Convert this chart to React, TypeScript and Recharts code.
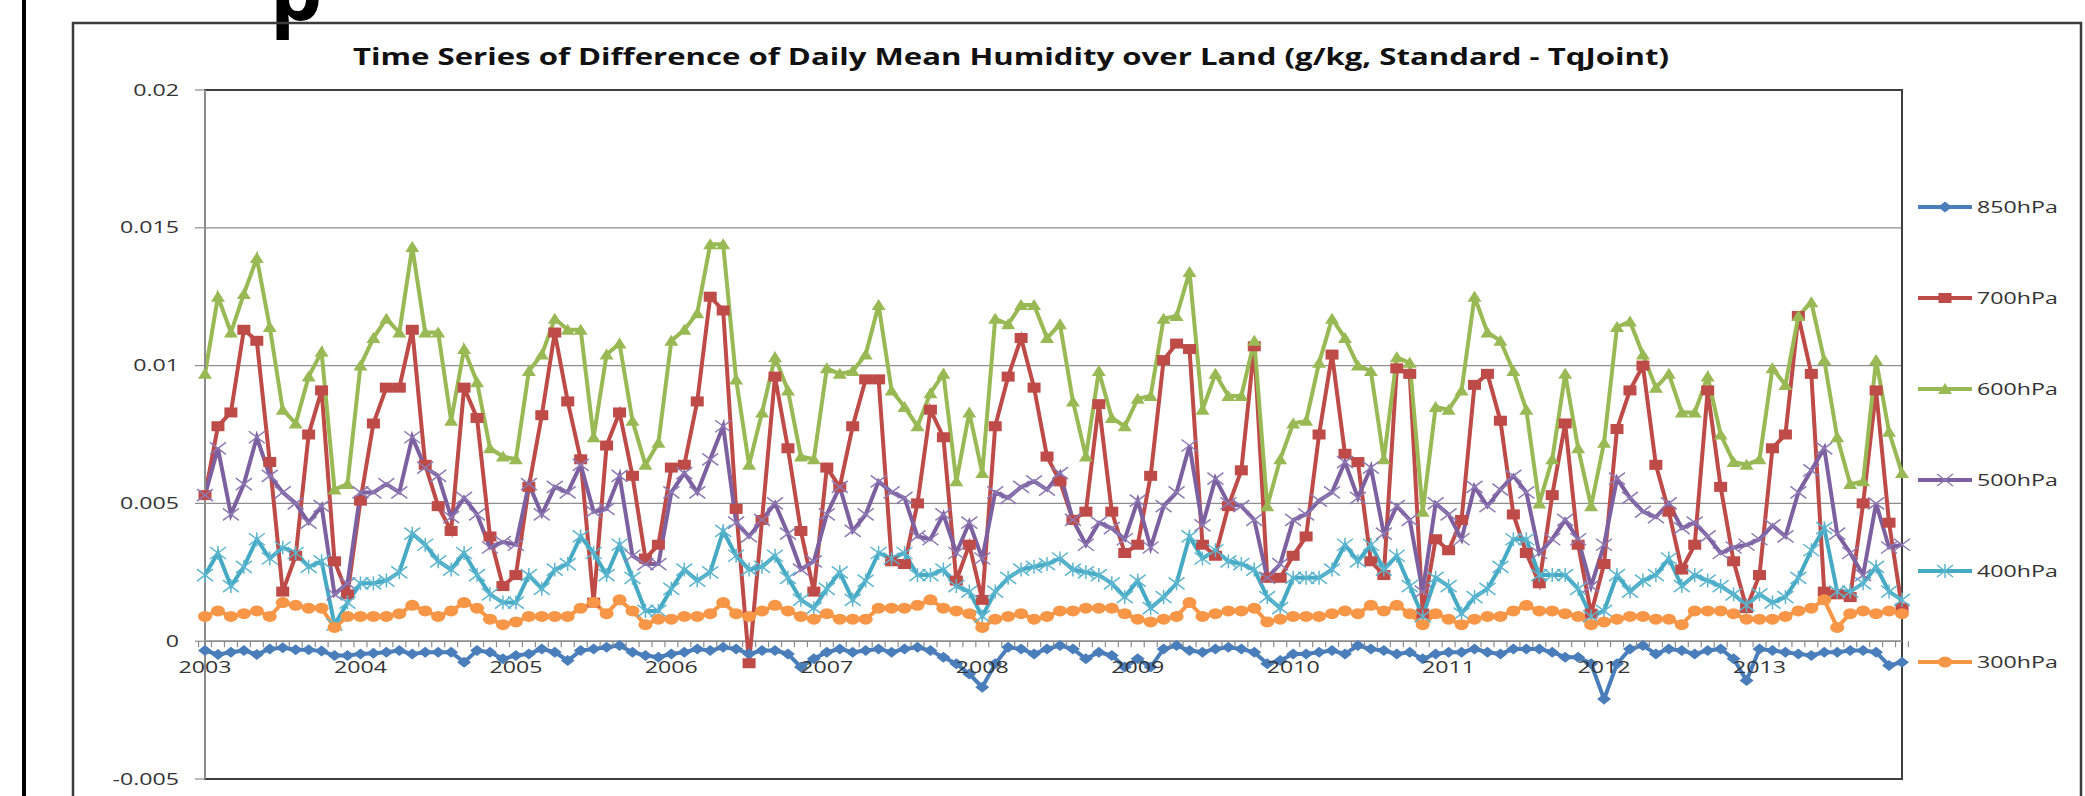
import React from "react";
import {
  LineChart,
  Line,
  XAxis,
  YAxis,
  CartesianGrid,
  ReferenceLine,
  ReferenceArea,
} from "recharts";

const TITLE =
  "Time Series of Difference of Daily Mean Humidity over Land (g/kg, Standard - TqJoint)";

const YEARS = ["2003", "2004", "2005", "2006", "2007", "2008", "2009", "2010", "2011", "2012", "2013"];
const MONTHS = ["01", "02", "03", "04", "05", "06", "07", "08", "09", "10", "11", "12"];
const Y_TICKS = [-0.005, 0, 0.005, 0.01, 0.015, 0.02];

// one row per year, Jan..Dec
const HPA_850 = [
  -0.00034, -0.00048, -0.0004, -0.00034, -0.00048, -0.00028, -0.00024, -0.00031, -0.00031, -0.00036, -0.00052, -0.00052,
  -0.00046, -0.00044, -0.0004, -0.00034, -0.00046, -0.0004, -0.0004, -0.0004, -0.00076, -0.00034, -0.0004, -0.00064,
  -0.00052, -0.00046, -0.00028, -0.0004, -0.0007, -0.00034, -0.00028, -0.00022, -0.00016, -0.0004, -0.00052, -0.00058,
  -0.00046, -0.0004, -0.00028, -0.00034, -0.00022, -0.00028, -0.00046, -0.00034, -0.00034, -0.00046, -0.00094, -0.00064,
  -0.0004, -0.00028, -0.0004, -0.00034, -0.00028, -0.0004, -0.00028, -0.00022, -0.00034, -0.00058, -0.00082, -0.00119,
  -0.00167, -0.00082, -0.00022, -0.00028, -0.00046, -0.00028, -0.00016, -0.00028, -0.00064, -0.0004, -0.00052, -0.00094,
  -0.00064, -0.00094, -0.00028, -0.00016, -0.00034, -0.0004, -0.00028, -0.00022, -0.00028, -0.0004, -0.00082, -0.0007,
  -0.00046, -0.00046, -0.0004, -0.00034, -0.00046, -0.00016, -0.00028, -0.00034, -0.00046, -0.0004, -0.00064, -0.00046,
  -0.0004, -0.0004, -0.00028, -0.0004, -0.00046, -0.00028, -0.00028, -0.00028, -0.0004, -0.00058, -0.00058, -0.00082,
  -0.0021, -0.00082, -0.00028, -0.00016, -0.00046, -0.00028, -0.00034, -0.00046, -0.00034, -0.00028, -0.00064, -0.00143,
  -0.00028, -0.00034, -0.0004, -0.00046, -0.00052, -0.0004, -0.0004, -0.00034, -0.00034, -0.0004, -0.00088, -0.00076,
];

const HPA_700 = [
  0.0053, 0.0078, 0.0083, 0.0113, 0.0109, 0.0065, 0.0018, 0.0031, 0.0075, 0.0091, 0.0029, 0.0017,
  0.0051, 0.0079, 0.0092, 0.0092, 0.0113, 0.0064, 0.0049, 0.004, 0.0092, 0.0081, 0.0038, 0.002,
  0.0024, 0.0056, 0.0082, 0.0112, 0.0087, 0.0066, 0.0014, 0.0071, 0.0083, 0.006, 0.003, 0.0035,
  0.0063, 0.0064, 0.0087, 0.0125, 0.012, 0.0048, -0.0008, 0.0044, 0.0096, 0.007, 0.004, 0.0018,
  0.0063, 0.0056, 0.0078, 0.0095, 0.0095, 0.0029, 0.0028, 0.005, 0.0084, 0.0074, 0.0022, 0.0035,
  0.0015, 0.0078, 0.0096, 0.011, 0.0092, 0.0067, 0.0058, 0.0044, 0.0047, 0.0086, 0.0047, 0.0032,
  0.0035, 0.006, 0.0102, 0.0108, 0.0106, 0.0035, 0.0031, 0.0049, 0.0062, 0.0107, 0.0023, 0.0023,
  0.0031, 0.0038, 0.0075, 0.0104, 0.0068, 0.0065, 0.0029, 0.0024, 0.0099, 0.0097, 0.001, 0.0037,
  0.0033, 0.0044, 0.0093, 0.0097, 0.008, 0.0046, 0.0032, 0.0021, 0.0053, 0.0079, 0.0035, 0.001,
  0.0028, 0.0077, 0.0091, 0.01, 0.0064, 0.0047, 0.0026, 0.0035, 0.0091, 0.0056, 0.0029, 0.0012,
  0.0024, 0.007, 0.0075, 0.0118, 0.0097, 0.0018, 0.0017, 0.0016, 0.005, 0.0091, 0.0043, 0.0012,
];

const HPA_600 = [
  0.0097, 0.0125, 0.0112, 0.0126, 0.0139, 0.0114, 0.0084, 0.0079, 0.0096, 0.0105, 0.0055, 0.0057,
  0.01, 0.011, 0.0117, 0.0112, 0.0143, 0.0112, 0.0112, 0.008, 0.0106, 0.0094, 0.007, 0.0067,
  0.0066, 0.0098, 0.0104, 0.0117, 0.0113, 0.0113, 0.0074, 0.0104, 0.0108, 0.008, 0.0064, 0.0072,
  0.0109, 0.0113, 0.0119, 0.0144, 0.0144, 0.0095, 0.0064, 0.0083, 0.0103, 0.0091, 0.0067, 0.0066,
  0.0099, 0.0097, 0.0098, 0.0104, 0.0122, 0.0091, 0.0085, 0.0078, 0.009, 0.0097, 0.0058, 0.0083,
  0.0061, 0.0117, 0.0115, 0.0122, 0.0122, 0.011, 0.0115, 0.0087, 0.0067, 0.0098, 0.0081, 0.0078,
  0.0088, 0.0089, 0.0117, 0.0118, 0.0134, 0.0084, 0.0097, 0.0089, 0.0089, 0.0109, 0.0049, 0.0066,
  0.0079, 0.008, 0.0101, 0.0117, 0.011, 0.01, 0.0098, 0.0066, 0.0103, 0.0101, 0.0047, 0.0085,
  0.0084, 0.0091, 0.0125, 0.0112, 0.0109, 0.0098, 0.0084, 0.005, 0.0066, 0.0097, 0.007, 0.0049,
  0.0072, 0.0114, 0.0116, 0.0104, 0.0092, 0.0097, 0.0083, 0.0083, 0.0096, 0.0075, 0.0065, 0.0064,
  0.0066, 0.0099, 0.0093, 0.0118, 0.0123, 0.0102, 0.0074, 0.0057, 0.0058, 0.0102, 0.0076, 0.0061,
];

const HPA_500 = [
  0.0053, 0.007, 0.0046, 0.0057, 0.0074, 0.006, 0.0054, 0.005, 0.0043, 0.0049, 0.0017, 0.0021,
  0.0054, 0.0054, 0.0057, 0.0054, 0.0074, 0.0063, 0.006, 0.0045, 0.0052, 0.0046, 0.0034, 0.0036,
  0.0035, 0.0057, 0.0046, 0.0056, 0.0054, 0.0064, 0.0047, 0.0048, 0.006, 0.0031, 0.0028, 0.0028,
  0.0054, 0.0061, 0.0054, 0.0066, 0.0078, 0.0043, 0.0038, 0.0044, 0.005, 0.0039, 0.0026, 0.0029,
  0.0046, 0.0056, 0.004, 0.0046, 0.0058, 0.0054, 0.0052, 0.0038, 0.0037, 0.0046, 0.0032, 0.0043,
  0.003, 0.0054, 0.0052, 0.0056, 0.0058, 0.0055, 0.0061, 0.0044, 0.0035, 0.0043, 0.0041, 0.0037,
  0.0051, 0.0034, 0.0049, 0.0054, 0.0071, 0.0042, 0.0059, 0.005, 0.0049, 0.0044, 0.0023, 0.0028,
  0.0044, 0.0046, 0.0051, 0.0054, 0.0065, 0.0052, 0.0063, 0.0039, 0.0049, 0.0044, 0.0018, 0.005,
  0.0046, 0.0037, 0.0056, 0.0049, 0.0055, 0.006, 0.0054, 0.0032, 0.0037, 0.0044, 0.0037, 0.002,
  0.0035, 0.0059, 0.0052, 0.0047, 0.0045, 0.005, 0.0041, 0.0043, 0.0038, 0.0032, 0.0034, 0.0035,
  0.0037, 0.0042, 0.0038, 0.0054, 0.0062, 0.007, 0.0039, 0.0032, 0.0024, 0.005, 0.0034, 0.0035,
];

const HPA_400 = [
  0.0024, 0.0032, 0.002, 0.0027, 0.0037, 0.003, 0.0034, 0.0032, 0.0027, 0.0029, 0.0006, 0.0014,
  0.0021, 0.0021, 0.0022, 0.0025, 0.0039, 0.0035, 0.0029, 0.0026, 0.0032, 0.0024, 0.0017, 0.0014,
  0.0014, 0.0024, 0.0019, 0.0026, 0.0028, 0.0038, 0.0032, 0.0024, 0.0035, 0.0023, 0.0011, 0.0011,
  0.0019, 0.0026, 0.0022, 0.0025, 0.004, 0.0031, 0.0026, 0.0027, 0.0031, 0.0023, 0.0015, 0.0012,
  0.0019, 0.0025, 0.0015, 0.0022, 0.0032, 0.003, 0.0032, 0.0024, 0.0024, 0.0026, 0.002, 0.0018,
  0.0009, 0.0018, 0.0023, 0.0026, 0.0027, 0.0028, 0.003, 0.0026, 0.0025, 0.0024, 0.0021, 0.0016,
  0.0022, 0.0012, 0.0016, 0.0021, 0.0038, 0.003, 0.0033, 0.0029, 0.0028, 0.0026, 0.0016, 0.0012,
  0.0023, 0.0023, 0.0023, 0.0026, 0.0035, 0.0029, 0.0035, 0.0026, 0.0031, 0.002, 0.0009, 0.0023,
  0.002, 0.001, 0.0016, 0.0019, 0.0027, 0.0037, 0.0037, 0.0024, 0.0024, 0.0024, 0.0019, 0.0009,
  0.0011, 0.0024, 0.0018, 0.0022, 0.0024, 0.003, 0.002, 0.0024, 0.0022, 0.002, 0.0017, 0.0013,
  0.0017, 0.0014, 0.0016, 0.0023, 0.0033, 0.0041, 0.0018, 0.0018, 0.0021, 0.0027, 0.0018, 0.0015,
];

const HPA_300 = [
  0.0009, 0.0011, 0.0009, 0.001, 0.0011, 0.0009, 0.0014, 0.0013, 0.0012, 0.0012, 0.0005, 0.0009,
  0.0009, 0.0009, 0.0009, 0.001, 0.0013, 0.0011, 0.0009, 0.0011, 0.0014, 0.0012, 0.0008, 0.0006,
  0.0007, 0.0009, 0.0009, 0.0009, 0.0009, 0.0012, 0.0014, 0.001, 0.0015, 0.0011, 0.0006, 0.0008,
  0.0008, 0.0009, 0.0009, 0.001, 0.0014, 0.001, 0.0009, 0.0011, 0.0013, 0.0011, 0.0009, 0.0008,
  0.001, 0.0008, 0.0008, 0.0008, 0.0012, 0.0012, 0.0012, 0.0013, 0.0015, 0.0012, 0.0011, 0.001,
  0.0005, 0.0008, 0.0009, 0.001, 0.0008, 0.0009, 0.0011, 0.0011, 0.0012, 0.0012, 0.0012, 0.001,
  0.0008, 0.0007, 0.0008, 0.0009, 0.0014, 0.0009, 0.001, 0.0011, 0.0011, 0.0012, 0.0007, 0.0008,
  0.0009, 0.0009, 0.0009, 0.001, 0.0011, 0.001, 0.0013, 0.0011, 0.0013, 0.001, 0.0006, 0.001,
  0.0008, 0.0006, 0.0008, 0.0009, 0.0009, 0.0011, 0.0013, 0.0011, 0.0011, 0.001, 0.0009, 0.0006,
  0.0007, 0.0008, 0.0009, 0.0009, 0.0008, 0.0008, 0.0006, 0.0011, 0.0011, 0.0011, 0.001, 0.0008,
  0.0008, 0.0008, 0.0009, 0.0011, 0.0012, 0.0015, 0.0005, 0.001, 0.0011, 0.001, 0.0011, 0.001,
];

type MarkerKind = "diamond" | "square" | "triangle" | "x" | "star" | "circle";

const SERIES: { name: string; values: number[]; color: string; marker: MarkerKind }[] = [
  { name: "850hPa", values: HPA_850, color: "#4A7EBB", marker: "diamond" },
  { name: "700hPa", values: HPA_700, color: "#BE4B48", marker: "square" },
  { name: "600hPa", values: HPA_600, color: "#98B954", marker: "triangle" },
  { name: "500hPa", values: HPA_500, color: "#7D60A0", marker: "x" },
  { name: "400hPa", values: HPA_400, color: "#46AAC5", marker: "star" },
  { name: "300hPa", values: HPA_300, color: "#F79646", marker: "circle" },
];

const CATEGORIES = YEARS.flatMap((y) => MONTHS.map((m) => `${y}-${m}`));

const data = CATEGORIES.map((month, i) => {
  const row: Record<string, string | number> = { month };
  SERIES.forEach((s) => {
    row[s.name] = s.values[i];
  });
  return row;
});

// layout
const W = 2085;
const H = 796;
const PLOT_LEFT = 205;
const PLOT_TOP = 90;
const PLOT_RIGHT = 1902;
const PLOT_BOTTOM = 779;
const Y_MIN = -0.005;
const Y_MAX = 0.02;
const ZERO_Y = PLOT_TOP + ((PLOT_BOTTOM - PLOT_TOP) * Y_MAX) / (Y_MAX - Y_MIN);
const BAND = (PLOT_RIGHT - PLOT_LEFT) / CATEGORIES.length;

// the reference screenshot is stretched sideways, so text is widened to match
const FONT = '"Open Sans", "DejaVu Sans", sans-serif';
const STRETCH = 1.45;
const LABEL_COLOR = "#333";
const AXIS_GRAY = "#8c8c8c";

function Marker({ kind, cx, cy, color }: { kind: MarkerKind; cx?: number; cy?: number; color: string }) {
  if (cx == null || cy == null) return null;
  switch (kind) {
    case "diamond":
      return <polygon points={`${cx - 7},${cy} ${cx},${cy - 5.5} ${cx + 7},${cy} ${cx},${cy + 5.5}`} fill={color} />;
    case "square":
      return <rect x={cx - 6.5} y={cy - 5} width={13} height={10} fill={color} />;
    case "triangle":
      return <polygon points={`${cx - 7},${cy + 5} ${cx},${cy - 6} ${cx + 7},${cy + 5}`} fill={color} />;
    case "x":
      return (
        <path
          d={`M${cx - 8},${cy - 6}L${cx + 8},${cy + 6}M${cx - 8},${cy + 6}L${cx + 8},${cy - 6}`}
          stroke="#8d79b3"
          strokeWidth={1.5}
          fill="none"
        />
      );
    case "star":
      return (
        <path
          d={`M${cx - 8},${cy - 6}L${cx + 8},${cy + 6}M${cx - 8},${cy + 6}L${cx + 8},${cy - 6}M${cx},${cy - 7}L${cx},${cy + 7}`}
          stroke="#5cb6cf"
          strokeWidth={1.5}
          fill="none"
        />
      );
    default:
      return <ellipse cx={cx} cy={cy} rx={7} ry={5.5} fill={color} />;
  }
}

function XTick(props: any) {
  const { x, index, payload } = props;
  const value: string = payload?.value ?? "";
  const [year, month] = value.split("-");
  return (
    <g>
      <line x1={x - BAND / 2} x2={x - BAND / 2} y1={ZERO_Y} y2={ZERO_Y + 6} stroke={AXIS_GRAY} strokeWidth={1.2} />
      {index === CATEGORIES.length - 1 && (
        <line x1={x + BAND / 2} x2={x + BAND / 2} y1={ZERO_Y} y2={ZERO_Y + 6} stroke={AXIS_GRAY} strokeWidth={1.2} />
      )}
      {month === "01" && (
        <text
          transform={`translate(${x} ${ZERO_Y + 32}) scale(${STRETCH} 1)`}
          textAnchor="middle"
          fontFamily={FONT}
          fontSize={16}
          fill={LABEL_COLOR}
        >
          {year}
        </text>
      )}
    </g>
  );
}

function YTick(props: any) {
  const { x, y, payload } = props;
  return (
    <text
      transform={`translate(${x - 14} ${y + 5.5}) scale(${STRETCH} 1)`}
      textAnchor="end"
      fontFamily={FONT}
      fontSize={16}
      fill={LABEL_COLOR}
    >
      {String(payload.value)}
    </text>
  );
}

export default function App() {
  return (
    <div style={{ position: "absolute", left: 0, top: 0, width: W, height: H, background: "#fff", overflow: "hidden" }}>
      <svg width={W} height={H} style={{ position: "absolute", left: 0, top: 0 }}>
        {/* page edges around the chart */}
        <rect x={22} y={-5} width={4} height={H + 10} fill="#000" />
        <text x={270} y={20} fontFamily={FONT} fontSize={83} fontWeight={700} fill="#000">
          p
        </text>
        <rect x={73} y={23} width={2008} height={H} fill="none" stroke="#3c3c3c" strokeWidth={2.5} />

        <text
          x={353}
          y={65}
          textLength={1316}
          lengthAdjust="spacingAndGlyphs"
          fontFamily={FONT}
          fontSize={23.5}
          fontWeight={700}
          fill="#111"
        >
          {TITLE}
        </text>

        {/* legend */}
        {SERIES.map((s, i) => {
          const cy = 207 + i * 91;
          return (
            <g key={s.name}>
              <line x1={1918} x2={1972} y1={cy} y2={cy} stroke={s.color} strokeWidth={4} />
              <Marker kind={s.marker} cx={1945} cy={cy} color={s.color} />
              <text
                transform={`translate(1977 ${cy + 5.5}) scale(${STRETCH} 1)`}
                fontFamily={FONT}
                fontSize={16}
                fill={LABEL_COLOR}
              >
                {s.name}
              </text>
            </g>
          );
        })}
      </svg>

      <div style={{ position: "absolute", left: 0, top: 0 }}>
        <LineChart
          width={W}
          height={H}
          data={data}
          margin={{ top: PLOT_TOP, right: W - PLOT_RIGHT, bottom: H - PLOT_BOTTOM - 1, left: PLOT_LEFT - 100 }}
        >
          <CartesianGrid vertical={false} stroke="#8e8e8e" strokeWidth={1.2} />
          <ReferenceArea y1={Y_MIN} y2={Y_MAX} fill="none" stroke="#3f3f3f" strokeWidth={2} ifOverflow="visible" />
          <XAxis
            dataKey="month"
            interval={0}
            height={1}
            axisLine={false}
            tickLine={false}
            tick={<XTick />}
          />
          <YAxis
            domain={[Y_MIN, Y_MAX]}
            ticks={Y_TICKS}
            width={100}
            tickSize={10}
            axisLine={{ stroke: AXIS_GRAY, strokeWidth: 2 }}
            tickLine={{ stroke: AXIS_GRAY, strokeWidth: 1.2 }}
            tick={<YTick />}
          />
          <ReferenceLine y={0} stroke={AXIS_GRAY} strokeWidth={1.5} />
          {SERIES.map((s) => (
            <Line
              key={s.name}
              type="linear"
              dataKey={s.name}
              stroke={s.color}
              strokeWidth={4}
              isAnimationActive={false}
              activeDot={false}
              dot={(p: any) => (
                <Marker key={`${s.name}-${p.index}`} kind={s.marker} cx={p.cx} cy={p.cy} color={s.color} />
              )}
            />
          ))}
        </LineChart>
      </div>
    </div>
  );
}
